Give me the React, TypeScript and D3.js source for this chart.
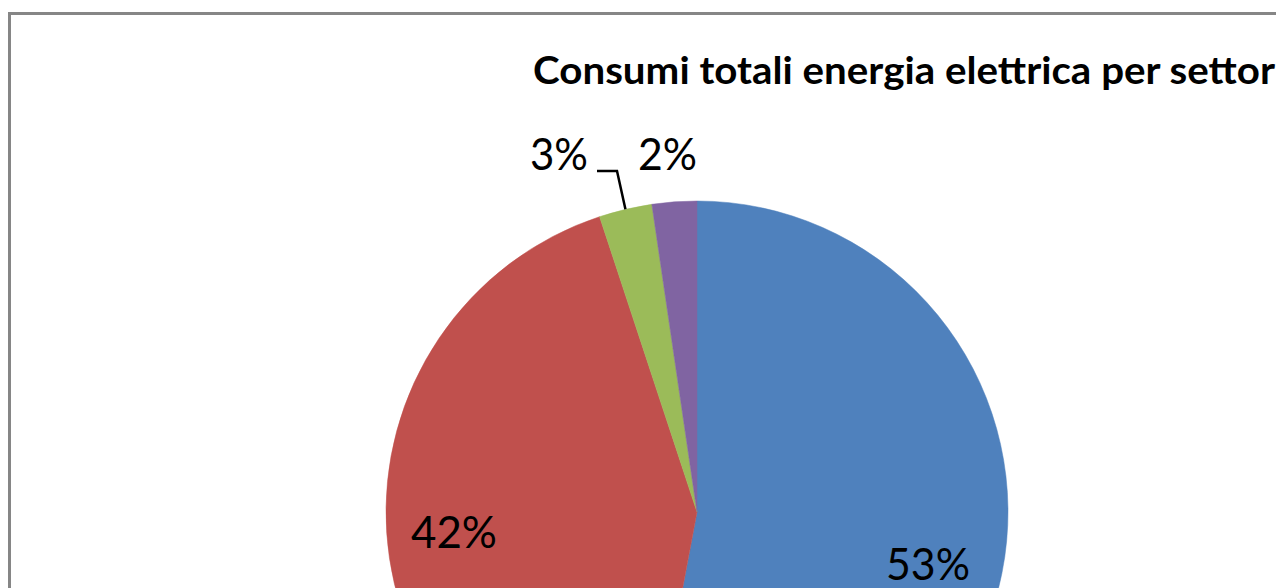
import React from "react";
import * as d3 from "d3";

const categories = ["Settore A", "Settore B", "Settore C", "Settore D"];
const values = [52.96, 41.97, 2.75, 2.32];
const colors = ["#4F81BD", "#C0504D", "#9BBB59", "#8064A2"];
const labelTexts = ["53%", "42%", "3%", "2%"];
const title = "Consumi totali energia elettrica per settor";

const W = 1276;
const H = 588;
const cx = 697;
const cy = 512;
const R = 311;

// label positions (left x, baseline y, width)
const labelPos = [
  { x: 886, y: 580, w: 84 },
  { x: 411, y: 548, w: 86 },
  { x: 530, y: 170, w: 58 },
  { x: 638, y: 170, w: 59 },
];

export default function App() {
  const data = categories.map((c, i) => ({ c, v: values[i], i }));
  const pie = d3
    .pie<any>()
    .sort(null)
    .value((d) => d.v)
    .startAngle(0)
    .endAngle(2 * Math.PI);
  const arcs = pie(data);
  const arc = d3.arc<any>().innerRadius(0).outerRadius(R);

  const g = arcs[2];
  const mid = (g.startAngle + g.endAngle) / 2;
  const ex = cx + Math.sin(mid) * R;
  const ey = cy - Math.cos(mid) * R;
  const leader = d3.line()([
    [597, 171],
    [617, 171],
    [ex, ey],
  ]);

  return (
    <svg
      width={W}
      height={H}
      style={{ position: "absolute", left: 0, top: 0 }}
      viewBox={`0 0 ${W} ${H}`}
    >
      <rect x={0} y={0} width={W} height={H} fill="#ffffff" />
      <rect
        x={9.5}
        y={13.5}
        width={W + 20}
        height={H + 20}
        fill="#ffffff"
        stroke="#868686"
        strokeWidth={3}
      />
      <text
        x={533}
        y={84}
        fontFamily="Lato, 'Open Sans', sans-serif"
        fontWeight="bold"
        fontSize={38}
        fill="#000"
        textLength={742}
        lengthAdjust="spacingAndGlyphs"
      >
        {title}
      </text>
      <g>
        {arcs.map((a, i) => (
          <path
            key={i}
            d={arc(a) as string}
            transform={`translate(${cx},${cy})`}
            fill={colors[i]}
            stroke={colors[i]}
            strokeWidth={0.5}
          />
        ))}
      </g>
      <path d={leader as string} fill="none" stroke="#000" strokeWidth={2.5} />
      {labelTexts.map((t, i) => (
        <text
          key={i}
          x={labelPos[i].x}
          y={labelPos[i].y}
          fontFamily="Lato, 'Open Sans', sans-serif"
          fontSize={45}
          fill="#000"
          textLength={labelPos[i].w}
          lengthAdjust="spacingAndGlyphs"
        >
          {t}
        </text>
      ))}
    </svg>
  );
}
